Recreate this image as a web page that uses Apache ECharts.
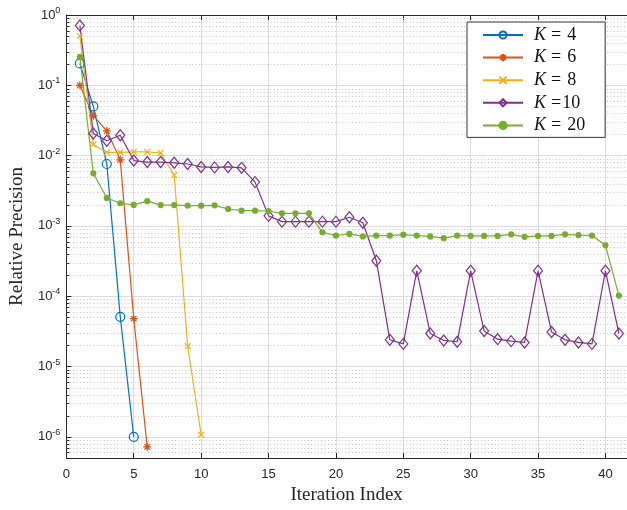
<!doctype html>
<html>
<head>
    <meta charset="utf-8">
    <title>Relative Precision vs Iteration</title>
    <script src="https://cdn.jsdelivr.net/npm/echarts@6/dist/echarts.min.js"></script>
    <style>
        html, body{ margin: 0; padding: 0; background: #fff; }
        #chartBox{ width: 627px; height: 510px; }
    </style>
</head>
<body>
    <div id="chartBox"></div>
<script type="text/javascript">
    // 数据
    var legendNames = ['K = 4', 'K = 6', 'K = 8', 'K =10', 'K = 20'];
    var k4 = [0.205, 0.05, 0.0076, 5.1e-5, 1.0e-6];
    var k6 = [0.1, 0.037, 0.0225, 0.0087, 4.8e-5, 7.2e-7];
    var k8 = [0.5, 0.0144, 0.0111, 0.0111, 0.0113, 0.0113, 0.0109, 0.0053, 1.95e-5, 1.07e-6];
    var k10 = [0.71, 0.0206, 0.0163, 0.0195, 0.0085, 0.0081, 0.0081, 0.0079, 0.0076, 0.0069,
               0.0068, 0.0069, 0.0067, 0.0042, 0.00139, 0.00115, 0.00115, 0.00115, 0.00115, 0.00115,
               0.00133, 0.00111, 3.2e-4, 2.4e-5, 2.1e-5, 2.3e-4, 2.95e-5, 2.35e-5, 2.25e-5, 2.3e-4,
               3.2e-5, 2.45e-5, 2.3e-5, 2.2e-5, 2.3e-4, 3.1e-5, 2.4e-5, 2.2e-5, 2.1e-5, 2.3e-4, 2.95e-5];
    var k20 = [0.254, 0.0056, 0.0025, 0.0021, 0.00199, 0.00225, 0.00198, 0.00198, 0.00195, 0.00194,
               0.00196, 0.00174, 0.00165, 0.00165, 0.00163, 0.00151, 0.00151, 0.00151, 8.1e-4, 7.3e-4,
               7.7e-4, 7.1e-4, 7.3e-4, 7.3e-4, 7.5e-4, 7.3e-4, 7.1e-4, 6.7e-4, 7.3e-4, 7.2e-4,
               7.2e-4, 7.2e-4, 7.6e-4, 7.0e-4, 7.2e-4, 7.2e-4, 7.6e-4, 7.4e-4, 7.3e-4, 5.3e-4, 1.02e-4];
    var xTicks = [0, 5, 10, 15, 20, 25, 30, 35, 40];
    var yTickExps = [0, -1, -2, -3, -4, -5, -6];

    var colors = ['#0072BD', '#D95319', '#EDB120', '#7E2F8E', '#77AC30'];

    // 标记形状 (空心, 用描边绘制)
    var symCircle = 'path://M10,5A5,5,0,1,1,0,5A5,5,0,1,1,10,5Z';
    var symStar = 'path://M5,0L5,10M0,5L10,5M1.5,1.5L8.5,8.5M1.5,8.5L8.5,1.5';
    var symCross = 'path://M0,0L10,10M0,10L10,0';
    var symDiamond = 'path://M5,0L10,5L5,10L0,5Z';

    // 迭代序号从1开始
    function toPairs(arr){
        var out = [];
        for (var i = 0; i < arr.length; i++) {
            out.push([i + 1, arr[i]]);
        }
        return out;
    }

    // 对数轴次网格线 (2..9 × 10^k)
    var minorGrid = [];
    for (var e = -7; e < 0; e++) {
        for (var m = 2; m <= 9; m++) {
            var v = m * Math.pow(10, e);
            if (v > 5.01e-7 && v < 1) minorGrid.push([0, v]);
        }
    }

    function makeSeries(name, arr, color, symbol, size, hollow){
        return {
            name: name,
            type: 'line',
            z: 3,
            data: toPairs(arr),
            symbol: symbol,
            symbolSize: size,
            showAllSymbol: true,
            lineStyle: {color: color, width: 1.2},
            itemStyle: {
                color: hollow ? 'rgba(255,255,255,0)' : color,
                borderColor: color,
                borderWidth: 1.2
            },
            emphasis: {disabled: true}
        };
    }

    var myChart = echarts.init(document.getElementById('chartBox'), null, {renderer: 'canvas'});
    var axisColor = '#262626';
    var option = {
        animation: false,
        backgroundColor: '#fff',
        grid: {left: 65, top: 15, right: 0, bottom: 48},
        legend: {
            data: legendNames,
            orient: 'vertical',
            left: 467,
            top: 22,
            backgroundColor: '#fff',
            borderColor: '#333',
            borderWidth: 1,
            borderRadius: 0,
            padding: [4, 20, 3, 15],
            itemWidth: 40,
            itemHeight: 9,
            itemGap: 4.6,
            formatter: function(name){
                var parts = name.split('=');
                var tight = parts[1].charAt(0) !== ' ';
                return '{k|K}{' + (tight ? 'eqt' : 'eq') + '|=}{n|' + parts[1].trim() + '}';
            },
            textStyle: {
                fontFamily: 'Liberation Serif',
                fontSize: 18,
                color: '#111',
                rich: {
                    k: {fontFamily: 'Liberation Serif', fontSize: 18, fontStyle: 'italic', color: '#111', padding: [0, 0, 0, 6]},
                    eq: {fontFamily: 'Liberation Serif', fontSize: 18, color: '#111', padding: [0, 6, 0, 5]},
                    eqt: {fontFamily: 'Liberation Serif', fontSize: 18, color: '#111', padding: [0, 1, 0, 5]},
                    n: {fontFamily: 'Liberation Serif', fontSize: 18, color: '#111'}
                }
            }
        },
        xAxis: [{
            type: 'value',
            min: 0,
            max: 41.6,
            interval: 5,
            name: 'Iteration Index',
            nameLocation: 'middle',
            nameGap: 28,
            nameTextStyle: {fontFamily: 'Liberation Serif', fontSize: 19, color: '#262626'},
            axisLine: {show: true, onZero: false, lineStyle: {color: axisColor, width: 1}},
            axisTick: {show: true, inside: true, length: 5, lineStyle: {color: axisColor}},
            axisLabel: {
                color: axisColor,
                fontFamily: 'Liberation Sans',
                fontSize: 13,
                margin: 10,
                showMaxLabel: false,
                formatter: function(v){
                    return xTicks.indexOf(v) >= 0 ? String(v) : '';
                }
            },
            splitLine: {show: true, lineStyle: {color: '#dcdcdc', width: 1}}
        }, {
            type: 'value',
            position: 'top',
            min: 0,
            max: 41.6,
            interval: 5,
            axisLine: {show: true, onZero: false, lineStyle: {color: axisColor, width: 1}},
            axisTick: {show: true, inside: true, length: 5, lineStyle: {color: axisColor}},
            axisLabel: {show: false},
            splitLine: {show: false}
        }],
        yAxis: {
            type: 'log',
            logBase: 10,
            min: 5e-7,
            max: 1,
            name: 'Relative Precision',
            nameLocation: 'middle',
            nameGap: 35,
            nameTextStyle: {fontFamily: 'Liberation Serif', fontSize: 19, color: '#262626'},
            axisLine: {show: true, onZero: false, lineStyle: {color: axisColor, width: 1}},
            axisTick: {show: true, inside: true, length: 5, lineStyle: {color: axisColor}},
            axisLabel: {
                color: axisColor,
                fontFamily: 'Liberation Sans',
                fontSize: 13,
                margin: 6,
                formatter: function(v){
                    var ex = Math.log10(v);
                    var r = Math.round(ex);
                    if (Math.abs(ex - r) > 1e-6 || yTickExps.indexOf(r) < 0) return '';
                    return '{b|10}{s|' + r + '}';
                },
                rich: {
                    b: {fontFamily: 'Liberation Sans', fontSize: 13, color: axisColor},
                    s: {fontFamily: 'Liberation Sans', fontSize: 9, color: axisColor, verticalAlign: 'bottom', padding: [0, 0, 9, 0]}
                }
            },
            splitLine: {show: true, lineStyle: {color: '#dcdcdc', width: 1}}
        },
        series: [
            {
                // 次网格线和左侧次刻度
                type: 'custom',
                z: 1,
                silent: true,
                data: minorGrid,
                encode: {x: 0, y: 1},
                renderItem: function(params, api){
                    var cs = params.coordSys;
                    var y = Math.round(api.coord([0, api.value(1)])[1]) + 0.5;
                    return {
                        type: 'group',
                        silent: true,
                        children: [{
                            type: 'line',
                            shape: {x1: cs.x, y1: y, x2: cs.x + cs.width, y2: y},
                            style: {stroke: '#c4c4c4', lineWidth: 1, lineDash: [1, 2.4]}
                        }, {
                            type: 'line',
                            shape: {x1: cs.x, y1: y, x2: cs.x + 3, y2: y},
                            style: {stroke: axisColor, lineWidth: 1}
                        }]
                    };
                }
            },
            makeSeries(legendNames[0], k4, colors[0], symCircle, 9, true),
            makeSeries(legendNames[1], k6, colors[1], symStar, 8, true),
            makeSeries(legendNames[2], k8, colors[2], symCross, 6, true),
            makeSeries(legendNames[3], k10, colors[3], symDiamond, [9, 11], true),
            makeSeries(legendNames[4], k20, colors[4], 'circle', 5, false)
        ]
    };
    myChart.setOption(option);
</script>
</body>
</html>
